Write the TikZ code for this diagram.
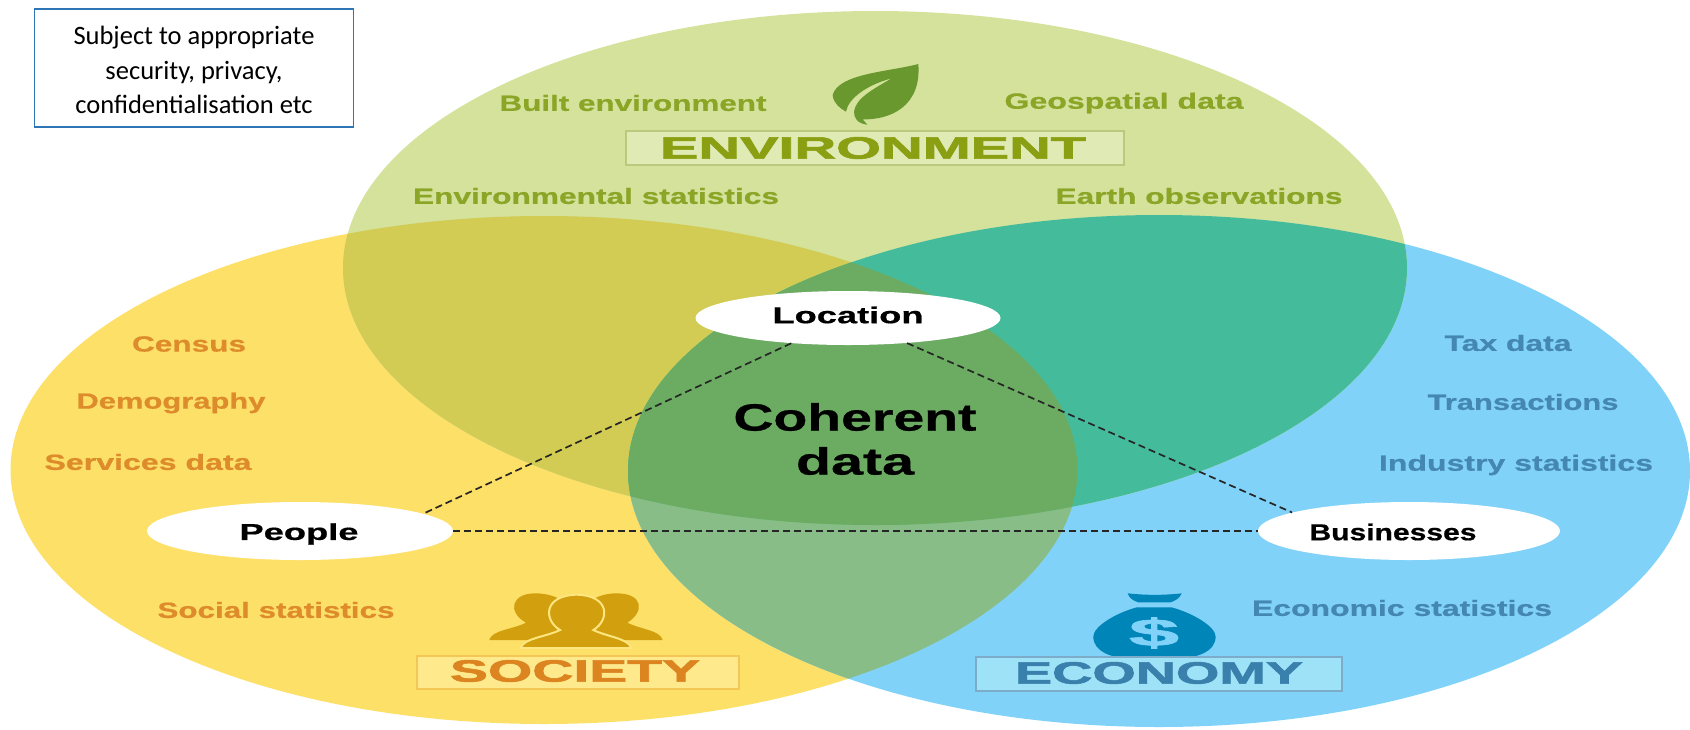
\documentclass[tikz,border=0pt]{standalone}
\usepackage{graphicx}
\usepackage{fontspec}
\setmainfont{Liberation Sans}
\newfontfamily\boxfont{Carlito}
\newfontfamily\heavyfont{Liberation Sans}[BoldFeatures={FakeBold=1.6}]
\newfontfamily\semifont{Liberation Sans}[BoldFeatures={FakeBold=0.6}]
\usetikzlibrary{shapes.geometric}
\definecolor{socfill}{HTML}{FDE068}
\definecolor{envfill}{HTML}{D4E29C}
\definecolor{ecofill}{HTML}{81D2F8}
\definecolor{envsoc}{HTML}{D2CC55}
\definecolor{enveco}{HTML}{44BC9C}
\definecolor{soceco}{HTML}{88BD88}
\definecolor{allfill}{HTML}{6CAC62}
\definecolor{envtext}{HTML}{8BA526}
\definecolor{envtitlec}{HTML}{8A9F12}
\definecolor{soctext}{HTML}{DE8B2C}
\definecolor{soctitlec}{HTML}{DB8420}
\definecolor{ecotext}{HTML}{4488B2}
\definecolor{ecotitlec}{HTML}{3A80AC}
\definecolor{leafc}{HTML}{69982F}
\definecolor{peoplec}{HTML}{D2A00E}
\definecolor{bagc}{HTML}{0085B8}
\definecolor{boxline}{HTML}{2E75B6}
\definecolor{envbandc}{HTML}{DFEAB5}
\definecolor{socbandc}{HTML}{FEE98D}
\definecolor{ecobandc}{HTML}{9DE2F6}
\newcommand{\fitw}[2]{\resizebox{#1pt}{\height}{#2}}
\def\EnvP{(875,268) ellipse [x radius=532,y radius=257]}
\def\SocP{(544,470) ellipse [x radius=533.5,y radius=254]}
\def\EcoP{(1159,471) ellipse [x radius=531,y radius=256]}
\tikzset{
  lab/.style={inner sep=0pt,font=\fontsize{22}{26}\selectfont\semifont\bfseries},
  envlab/.style={lab,text=envtext},
  soclab/.style={lab,text=soctext},
  ecolab/.style={lab,text=ecotext},
  title/.style={inner sep=0pt,font=\fontsize{31}{36}\selectfont\heavyfont\bfseries},
  hub/.style={ellipse,fill=white,inner sep=0pt},
  hubtext/.style={inner sep=0pt,font=\fontsize{23}{27}\selectfont\semifont\bfseries},
  link/.style={draw=black!85,line width=1.7pt,dash pattern=on 7pt off 4pt},
  band/.style={line width=1.4pt,inner sep=0pt},
  core/.style={inner sep=0pt,font=\fontsize{38}{44}\selectfont\semifont\bfseries}
}
\begin{document}
\begin{tikzpicture}[x=1pt,y=-1pt]
\useasboundingbox (0,0) rectangle (1690,729);
% circles
\fill[socfill] \SocP;
\fill[ecofill] \EcoP;
\fill[envfill] \EnvP;
\begin{scope}\clip \SocP; \fill[soceco] \EcoP; \end{scope}
\begin{scope}\clip \SocP; \fill[envsoc] \EnvP; \end{scope}
\begin{scope}\clip \EcoP; \fill[enveco] \EnvP; \end{scope}
\begin{scope}\clip \SocP; \clip \EcoP; \fill[allfill] \EnvP; \end{scope}
% note
\node[draw=boxline,line width=1.3pt,fill=white,minimum width=319pt,minimum height=118pt,inner sep=0pt] (notebox) at (194,68) {};
\node[inner sep=0pt,align=center,font=\fontsize{26.5}{34.5}\selectfont\boxfont] (note) at (194,70)
  {Subject to appropriate\\security, privacy,\\confidentialisation etc};
% leaf icon
\begin{scope}[shift={(780,40)},scale=0.3333]
\fill[leafc] (415,72) .. controls (330,95) and (175,100) .. (158,165)
  .. controls (160,190) and (180,205) .. (198,215)
  .. controls (205,175) and (260,135) .. (335,115)
  .. controls (275,150) and (228,175) .. (222,215)
  .. controls (222,235) and (232,250) .. (262,254)
  -- (248,238) .. controls (330,240) and (425,200) .. (415,72) -- cycle;
\end{scope}
% people icon
\begin{scope}[shift={(400,570)},scale=0.3333]
\fill[peoplec] (268,210) .. controls (275,180) and (340,178) .. (378,158)
  .. controls (320,125) and (335,70) .. (405,70) .. controls (480,70) and (500,110) .. (530,110)
  .. controls (560,110) and (580,70) .. (650,70) .. controls (730,70) and (735,125) .. (682,158)
  .. controls (720,178) and (780,180) .. (788,210) -- cycle;
\fill[peoplec,draw=socfill!85!white,line width=2pt] (362,234) .. controls (370,205) and (440,200) .. (480,180)
  .. controls (430,150) and (430,76) .. (530,74) .. controls (630,76) and (630,150) .. (580,180)
  .. controls (620,200) and (685,205) .. (694,234) -- cycle;
\end{scope}
% money bag icon
\begin{scope}[shift={(960,570)},scale=0.3333]
\fill[bagc] (503,70) .. controls (560,76) and (610,76) .. (665,70)
  .. controls (660,85) and (645,92) .. (632,97) -- (535,97) .. controls (520,92) and (508,85) .. (503,70) -- cycle;
\fill[bagc] (530,112) -- (635,112) .. controls (700,130) and (767,170) .. (767,200)
  .. controls (767,245) and (710,264) .. (660,264) -- (505,264)
  .. controls (455,264) and (400,245) .. (400,200) .. controls (400,170) and (465,130) .. (530,112) -- cycle;
\end{scope}
\node[inner sep=0pt,text=ecofill,font=\fontsize{38}{42}\selectfont\heavyfont\bfseries] (dollar) at (1154,633) {\fitw{50}{\$}};
% category bands
\node[band,draw=envtext!60,fill=envbandc,minimum width=498pt,minimum height=34pt] (envband) at (875,148) {};
\node[title,text=envtitlec] (envtitle) at (873,148) {\fitw{426}{ENVIRONMENT}};
\node[band,draw=soctext!30!socfill,fill=socbandc,minimum width=322pt,minimum height=33pt] (socband) at (578,672.5) {};
\node[title,text=soctitlec] (soctitle) at (575,671) {\fitw{250}{SOCIETY}};
\node[band,draw=ecotext!70,fill=ecobandc,minimum width=366pt,minimum height=34pt] (ecoband) at (1159,674) {};
\node[title,text=ecotitlec] (ecotitle) at (1159,673) {\fitw{288}{ECONOMY}};
% environment labels
\node[envlab] (l1) at (633,103) {\fitw{267}{Built environment}};
\node[envlab] (l2) at (1124,103) {\fitw{239}{Geospatial data}};
\node[envlab] (l3) at (596,196) {\fitw{366}{Environmental statistics}};
\node[envlab] (l4) at (1199,196) {\fitw{287}{Earth observations}};
% society labels
\node[soclab] (s1) at (189,344) {\fitw{114}{Census}};
\node[soclab] (s2) at (171,403) {\fitw{189}{Demography}};
\node[soclab] (s3) at (148,462) {\fitw{207}{Services data}};
\node[soclab] (s4) at (276,610) {\fitw{237}{Social statistics}};
% economy labels
\node[ecolab] (e1) at (1508,343) {\fitw{127}{Tax data}};
\node[ecolab] (e2) at (1523,402) {\fitw{191}{Transactions}};
\node[ecolab] (e3) at (1516,465) {\fitw{274}{Industry statistics}};
\node[ecolab] (e4) at (1402,608) {\fitw{300}{Economic statistics}};
% hubs
\node[hub,minimum width=305pt,minimum height=54pt] (loc) at (848,318) {};
\node[hub,minimum width=306pt,minimum height=58pt] (peo) at (300,531) {};
\node[hub,minimum width=302pt,minimum height=58pt] (bus) at (1409,531) {};
\node[hubtext] (loct) at (848,315) {\fitw{151}{Location}};
\node[hubtext] (peot) at (299,534) {\fitw{119}{People}};
\node[hubtext] (bust) at (1393,532) {\fitw{167}{Businesses}};
% links
\draw[link] (loc.204) -- (peo.8);
\draw[link] (loc.337) -- (bus.171.5);
\draw[link] (peo.east) -- (bus.west);
% centre
\node[core] (c1) at (855,417) {\fitw{243}{Coherent}};
\node[core] (c2) at (855,461) {\fitw{118}{data}};
\end{tikzpicture}
\end{document}
